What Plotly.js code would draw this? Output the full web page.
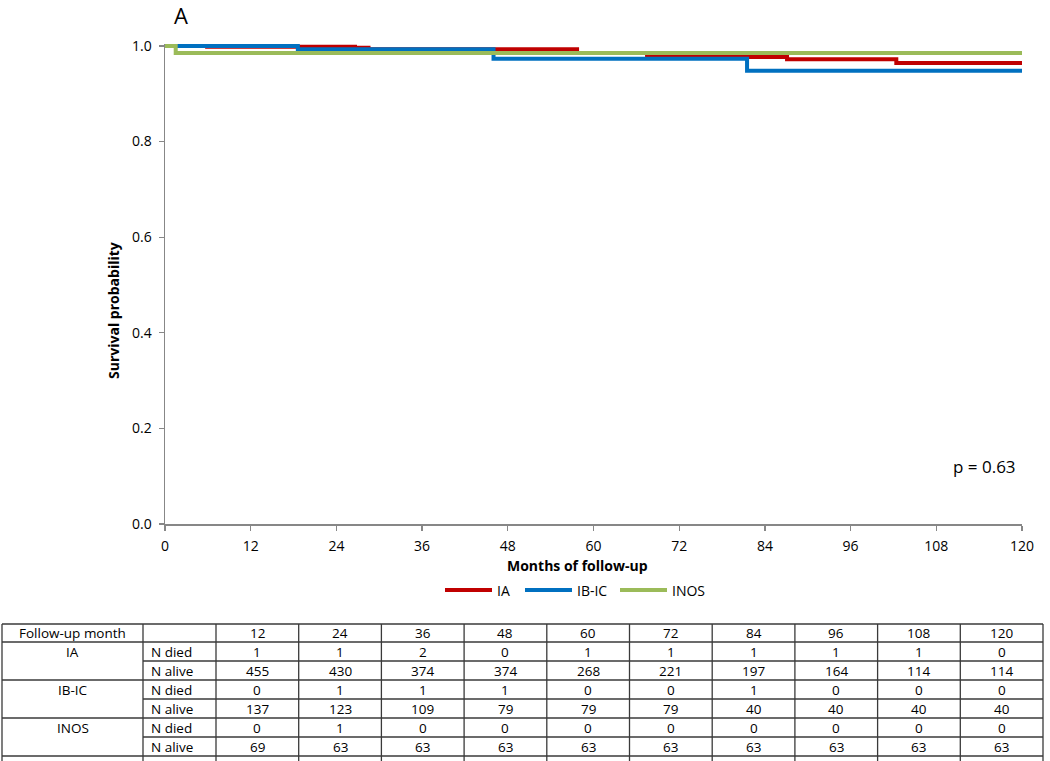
<!DOCTYPE html>
<html>
<head>
<meta charset="utf-8">
<script src="https://cdn.plot.ly/plotly-3.0.1.min.js"></script>
<style>html,body{margin:0;padding:0;background:#fff;}#chart{width:1050px;height:761px;}</style>
</head>
<body>
<div id="chart"></div>
<script>
// ---- survival curves (step points) ----
const iaMonths   = [0, 5.9, 26.6, 28.5, 57.7, 67.5, 87.1, 102.4, 120];
const iaSurv     = [1.0, 0.998, 0.996, 0.993, 0.985, 0.977, 0.972, 0.964, 0.964];
const ibicMonths = [0, 18.6, 46.0, 81.5, 120];
const ibicSurv   = [1.0, 0.993, 0.973, 0.948, 0.948];
const inosMonths = [0, 1.5, 120];
const inosSurv   = [1.0, 0.985, 0.985];

// ---- risk table ----
const tableMonths = [12, 24, 36, 48, 60, 72, 84, 96, 108, 120];
const groups      = ["IA", "IB-IC", "INOS"];
const iaDied      = [1, 1, 2, 0, 1, 1, 1, 1, 1, 0];
const iaAlive     = [455, 430, 374, 374, 268, 221, 197, 164, 114, 114];
const ibicDied    = [0, 1, 1, 1, 0, 0, 1, 0, 0, 0];
const ibicAlive   = [137, 123, 109, 79, 79, 79, 40, 40, 40, 40];
const inosDied    = [0, 1, 0, 0, 0, 0, 0, 0, 0, 0];
const inosAlive   = [69, 63, 63, 63, 63, 63, 63, 63, 63, 63];
const pText = "p = 0.63";

const FONT = "Open Sans, Noto Sans, DejaVu Sans, sans-serif";
const L = 165, R = 1022, T = 44, B = 524;
const px = x => (x - L) / (R - L);
const py = y => (B - y) / (B - T);

const series = [
  {x: iaMonths, y: iaSurv, name: "IA", color: "#C00000"},
  {x: ibicMonths, y: ibicSurv, name: "IB-IC", color: "#0070C0"},
  {x: inosMonths, y: inosSurv, name: "INOS", color: "#9BBB59"}
];
const traces = series.map(s => ({
  type: "scatter", mode: "lines", x: s.x, y: s.y, name: s.name, showlegend: false,
  line: {shape: "hv", color: s.color, width: 4}
}));

const shapes = [];
const annotations = [];

// title and axis titles
annotations.push({xref: "paper", yref: "paper", x: px(181), y: py(15), text: "A",
  showarrow: false, font: {family: FONT, size: 22, color: "#000"}, xanchor: "center", yanchor: "middle"});
annotations.push({xref: "paper", yref: "paper", x: px(113), y: py(311), text: "<b>Survival probability</b>",
  showarrow: false, textangle: -90, font: {family: FONT, size: 14, color: "#000"}, xanchor: "center", yanchor: "middle"});
annotations.push({xref: "paper", yref: "paper", x: px(577), y: py(565), text: "<b>Months of follow-up</b>",
  showarrow: false, font: {family: FONT, size: 14, color: "#000"}, xanchor: "center", yanchor: "middle"});
annotations.push({xref: "paper", yref: "paper", x: px(1018), y: py(466), text: pText,
  showarrow: false, font: {family: FONT, size: 17, color: "#000"}, xanchor: "right", yanchor: "middle"});

// legend (drawn below the x axis title)
const legendStarts = [445, 525, 620];
series.forEach((s, i) => {
  const x0 = legendStarts[i];
  shapes.push({type: "line", xref: "paper", yref: "paper", x0: px(x0), x1: px(x0 + 47), y0: py(590), y1: py(590),
    line: {color: s.color, width: 4}});
  annotations.push({xref: "paper", yref: "paper", x: px(x0 + 50), y: py(590), text: s.name, showarrow: false,
    font: {family: FONT, size: 14, color: "#000"}, xanchor: "left", yanchor: "middle"});
});

// table geometry
const colEdges = [2, 143, 216];
const colW = (1043 - 216) / tableMonths.length;
for (let i = 1; i <= tableMonths.length; i++) colEdges.push(216 + i * colW);
const rowEdges = [624, 642, 661, 680, 699, 718, 737, 756];
const lineStyle = {color: "#3a3a3a", width: 1.3};
function hline(x0, x1, y) {
  shapes.push({type: "line", xref: "paper", yref: "paper", x0: px(x0), x1: px(x1), y0: py(y), y1: py(y), line: lineStyle});
}
function vline(x, y0, y1) {
  shapes.push({type: "line", xref: "paper", yref: "paper", x0: px(x), x1: px(x), y0: py(y0), y1: py(y1), line: lineStyle});
}
rowEdges.forEach((y, i) => {
  const partial = (i === 2 || i === 4 || i === 6);
  hline(partial ? colEdges[1] : colEdges[0], colEdges[colEdges.length - 1], y);
});
colEdges.forEach(x => vline(x, rowEdges[0], 761));

function cellText(text, xc, yc, anchor) {
  annotations.push({xref: "paper", yref: "paper", x: px(xc), y: py(yc), text: String(text), showarrow: false,
    font: {family: FONT, size: 13.5, color: "#000"}, xanchor: anchor || "center", yanchor: "middle"});
}
const rowMid = i => (rowEdges[i] + rowEdges[i + 1]) / 2;
const colMid = j => (colEdges[j + 2] + colEdges[j + 3]) / 2;

cellText("Follow-up month", (colEdges[0] + colEdges[1]) / 2, rowMid(0));
tableMonths.forEach((m, j) => cellText(m, colMid(j), rowMid(0)));
const groupRows = [[iaDied, iaAlive], [ibicDied, ibicAlive], [inosDied, inosAlive]];
groups.forEach((g, gi) => {
  const r0 = 1 + gi * 2;
  cellText(g, (colEdges[0] + colEdges[1]) / 2, rowMid(r0));
  cellText("N died", colEdges[1] + 6, rowMid(r0), "left");
  cellText("N alive", colEdges[1] + 6, rowMid(r0 + 1), "left");
  groupRows[gi][0].forEach((v, j) => cellText(v, colMid(j), rowMid(r0)));
  groupRows[gi][1].forEach((v, j) => cellText(v, colMid(j), rowMid(r0 + 1)));
});

const layout = {
  width: 1050, height: 761,
  margin: {l: L, r: 1050 - R, t: T, b: 761 - B, pad: 0},
  paper_bgcolor: "#fff", plot_bgcolor: "#fff",
  font: {family: FONT, size: 14, color: "#000"},
  showlegend: false,
  xaxis: {range: [0, 120], tick0: 0, dtick: 12, ticks: "outside", ticklen: 5, tickcolor: "#878787", tickwidth: 1.3,
    showline: true, linecolor: "#878787", linewidth: 1.5, showgrid: false, zeroline: false, ticklabelstandoff: 4,
    tickfont: {family: FONT, size: 14, color: "#000"}, fixedrange: true},
  yaxis: {range: [0, 1.004], tickvals: [0, 0.2, 0.4, 0.6, 0.8, 1.0], tickformat: ".1f", ticks: "outside", ticklen: 5,
    tickcolor: "#878787", tickwidth: 1.3, showline: true, linecolor: "#878787", linewidth: 1.5, ticklabelstandoff: 4,
    showgrid: false, zeroline: false, tickfont: {family: FONT, size: 14, color: "#000"}, fixedrange: true},
  shapes: shapes,
  annotations: annotations
};

Plotly.newPlot("chart", traces, layout, {displayModeBar: false, staticPlot: true});
</script>
</body>
</html>
